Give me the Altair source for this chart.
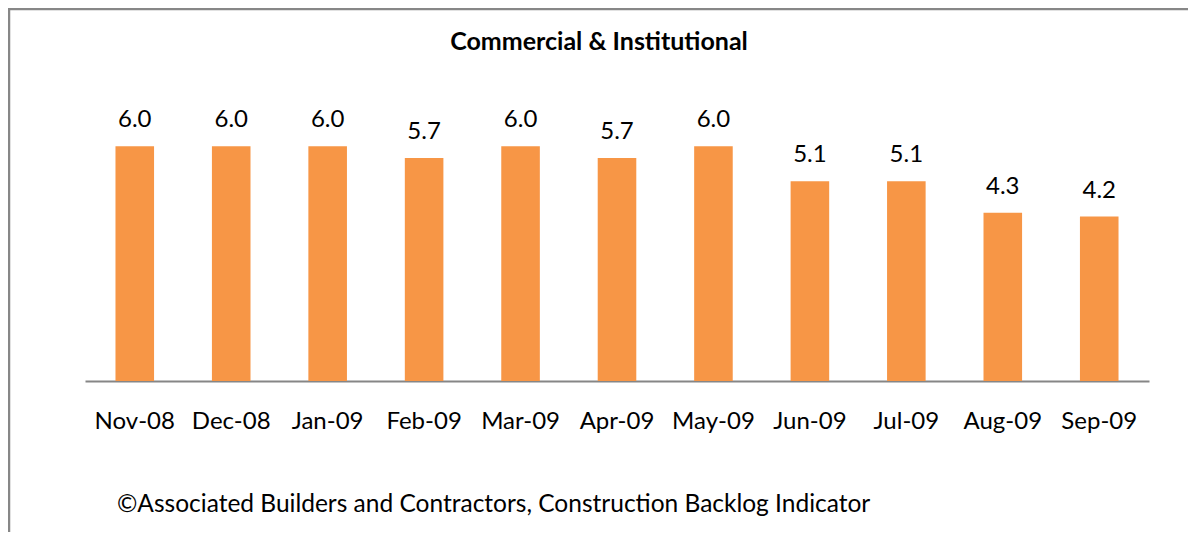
import altair as alt
import pandas as pd

months = ["Nov-08", "Dec-08", "Jan-09", "Feb-09", "Mar-09", "Apr-09",
          "May-09", "Jun-09", "Jul-09", "Aug-09", "Sep-09"]
values = [6.0, 6.0, 6.0, 5.7, 6.0, 5.7, 6.0, 5.1, 5.1, 4.3, 4.2]
title_text = "Commercial & Institutional"
footer_text = "©Associated Builders and Contractors, Construction Backlog Indicator"

df = pd.DataFrame({"month": months, "value": values})

W, H = 1064, 274
PAD_L, PAD_T = 77, 99
PAD_R = 1180 - PAD_L - W
FONT = "Lato"
BAR = "#F79646"
GRAY = "#878787"

x = alt.X("month:N", sort=months,
          scale=alt.Scale(paddingInner=0.6, paddingOuter=0.316),
          axis=alt.Axis(title=None, labelAngle=0, ticks=False,
                        domainColor="#868686", domainWidth=2,
                        labelFont=FONT, labelFontSize=24, labelColor="#000000",
                        labelPadding=28, grid=False))
y = alt.Y("value:Q", scale=alt.Scale(domain=[0, 7]), axis=None)

base = alt.Chart(df)
bars = base.mark_bar(color=BAR).encode(x=x, y=y)
labels = base.mark_text(baseline="alphabetic", dy=-19, font=FONT, fontSize=24,
                        color="#000000").encode(
    x=x, y=y, text=alt.Text("value:Q", format=".1f"))

one = alt.Data(values=[{}])
title = alt.Chart(one).mark_text(text=title_text, font=FONT, fontSize=25,
                                 fontWeight="bold", align="center",
                                 baseline="alphabetic", color="#000000").encode(
    x=alt.value(599 - 85), y=alt.value(50 - 107))
footer = alt.Chart(one).mark_text(text=footer_text, font=FONT, fontSize=24.5,
                                  align="left", baseline="alphabetic",
                                  color="#000000").encode(
    x=alt.value(117 - 85), y=alt.value(512 - 107))
border_top = alt.Chart(one).mark_rule(color=GRAY, strokeWidth=2.5).encode(
    x=alt.value(-PAD_L), x2=alt.value(W + PAD_R), y=alt.value(-PAD_T + 1))
border_left = alt.Chart(one).mark_rule(color=GRAY, strokeWidth=2.5).encode(
    x=alt.value(-PAD_L + 1), y=alt.value(-PAD_T), y2=alt.value(H + 160))

chart = alt.layer(bars, labels, title, footer, border_top, border_left).properties(
    width=W, height=H,
    autosize=alt.AutoSizeParams(type="none"),
    padding={"left": PAD_L, "top": PAD_T, "right": PAD_R, "bottom": 524 - PAD_T - H},
    background="#FFFFFF",
).configure_view(stroke=None)

chart.save("out.html", embed_options={"renderer": "svg", "actions": False})
